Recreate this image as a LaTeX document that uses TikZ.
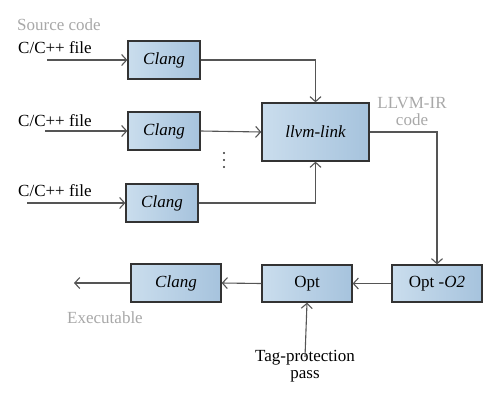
\documentclass[tikz,border=0pt]{standalone}
\usepackage{fontspec}
\setmainfont{Liberation Serif}
\usetikzlibrary{arrows.meta}
\definecolor{boxL}{HTML}{CADDED}
\definecolor{boxR}{HTML}{A6C3DD}
\definecolor{edge}{HTML}{333333}
\definecolor{conn}{HTML}{555555}
\definecolor{lbl}{HTML}{A8A8A8}
\tikzset{
  blk/.style={draw=edge, line width=1.3pt, left color=boxL, right color=boxR,
    minimum width=72pt, minimum height=38pt, inner sep=0pt, font=\fontsize{17}{19}\selectfont},
  conn/.style={draw=conn, line width=1.1pt, -{Straight Barb[length=5pt,width=11pt,line width=1.1pt]}},
  txt/.style={font=\fontsize{17}{19}\selectfont, inner sep=0pt},
  gtxt/.style={txt, text=lbl, align=center},
  dot/.style={fill=edge, circle, inner sep=0pt, minimum size=2.2pt},
}
\begin{document}
\begin{tikzpicture}[x=1pt,y=-1pt]
\useasboundingbox (0,0) rectangle (500,400);
\node[blk] (c1) at (164,60) {\itshape Clang};
\node[blk] (c2) at (164,131) {\itshape Clang};
\node[blk] (c3) at (162,203) {\itshape Clang};
\node[blk, minimum width=107pt, minimum height=58pt] (ll) at (315.5,132) {\itshape llvm-link};
\node[blk, minimum width=90pt, minimum height=37pt] (o2) at (437,283.5) {Opt -\textit{O2}};
\node[blk, minimum width=90pt, minimum height=37pt] (op) at (307,283.5) {Opt};
\node[blk, minimum width=90pt, minimum height=38pt] (c4) at (176,283) {\itshape Clang};

\node[gtxt, anchor=west] (src) at (17,25) {Source code};
\node[txt, anchor=west] (f1) at (18,48) {C/C++ file};
\node[txt, anchor=west] (f2) at (18,121) {C/C++ file};
\node[txt, anchor=west] (f3) at (18,191) {C/C++ file};
\node[dot] (d1) at (224,153) {};
\node[dot] (d2) at (224,160) {};
\node[dot] (d3) at (224,167) {};
\node[gtxt] (ir) at (412,112) {LLVM-IR\\[-2pt]code};
\node[gtxt] (exe) at (105,318) {Executable};
\node[txt, align=center, anchor=north] (tag) at (305,350) {Tag-protection\\[-2pt]pass};

\coordinate (i1) at (47,60);
\coordinate (i2) at (45,131);
\coordinate (i3) at (27,203);
\coordinate (out) at (74,283);

\draw[conn] (i1) -- (c1.west);
\draw[conn] (i2) -- (c2.west);
\draw[conn] (i3) -- (c3.west);
\draw[conn] (c1.east) -| (ll.north);
\draw[conn] (c2.east) -- (ll.west);
\draw[conn] (c3.east) -| (ll.south);
\draw[conn] (ll.east) -| (o2.north);
\draw[conn] (o2.west) -- (op.east);
\draw[conn] (op.west) -- (c4.east);
\draw[conn] (c4.west) -- (out);
\draw[conn] ([yshift=-7pt]tag.north) -- (op.south);
\end{tikzpicture}
\end{document}
